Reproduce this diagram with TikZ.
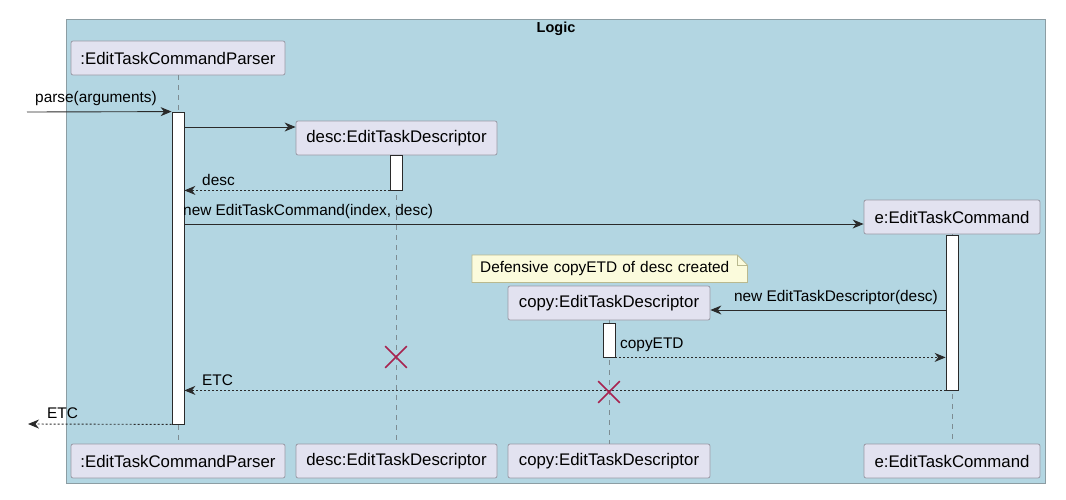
\documentclass[tikz,border=0pt]{standalone}
\usepackage{fontspec}
\setmainfont{Liberation Sans}
\usetikzlibrary{arrows.meta,shapes.misc}
\definecolor{framebg}{HTML}{B3D6E2}
\definecolor{frameln}{HTML}{8C9DA3}
\definecolor{partbg}{HTML}{E2E2F0}
\definecolor{partln}{HTML}{9A9AA6}
\definecolor{notebg}{HTML}{FBFBDC}
\definecolor{noteln}{HTML}{B9B98F}
\definecolor{lifeln}{HTML}{7D8C92}
\definecolor{msgln}{HTML}{2A2A2A}
\definecolor{xcol}{HTML}{A8234F}
\pgfdeclarelayer{framelayer}
\pgfdeclarelayer{notelayer}
\pgfsetlayers{framelayer,notelayer,main}
\begin{document}
\begin{tikzpicture}[x=1pt,y=-1pt,
  part/.style={draw=partln, fill=partbg, rounded corners=2pt, minimum height=34pt, inner sep=0pt, font=\fontsize{16.8}{18}\selectfont, line width=0.8pt},
  actbar/.style={draw=msgln, fill=white, minimum width=12pt, inner sep=0pt, line width=0.8pt},
  lifeline/.style={draw=lifeln, dash pattern=on 5pt off 5pt, line width=0.8pt},
  msg/.style={draw=msgln, line width=0.9pt, -{Stealth[length=11pt,width=9pt,inset=3.5pt]}},
  ret/.style={msg, dash pattern=on 2pt off 2pt},
  lbl/.style={font=\fontsize{15.4}{17}\selectfont, inner sep=0pt, text=black},
  xmark/.style={draw=xcol, cross out, line width=1.6pt, minimum size=20pt, inner sep=0pt}
]
\useasboundingbox (0,0) rectangle (1066,499);
% frame
\begin{pgfonlayer}{framelayer}
\fill[white] (0,0) rectangle (1066,499);
\node[draw=frameln, fill=framebg, line width=0.8pt, minimum width=979pt, minimum height=464pt, inner sep=0pt] (frame) at (555.5,251) {};
\end{pgfonlayer}
\node[font=\bfseries\fontsize{14.5}{16}\selectfont, anchor=north, inner sep=0pt] (title) at (556,22) {Logic};
% participants
\node[part, minimum width=214pt] (p1t) at (178,58) {:EditTaskCommandParser};
\node[part, minimum width=214pt] (p1b) at (178,461) {:EditTaskCommandParser};
\node[part, minimum width=201pt] (p2t) at (396.5,138) {desc:EditTaskDescriptor};
\node[part, minimum width=201pt] (p2b) at (396.5,461) {desc:EditTaskDescriptor};
\node[part, minimum width=202pt] (p3t) at (609,303) {copy:EditTaskDescriptor};
\node[part, minimum width=202pt] (p3b) at (609,461) {copy:EditTaskDescriptor};
\node[part, minimum width=176pt] (p4t) at (952,217) {e:EditTaskCommand};
\node[part, minimum width=176pt] (p4b) at (952,461) {e:EditTaskCommand};
% lifelines
\draw[lifeline] (p1t.south) -- (p1b.north);
\draw[lifeline] (p2t.south) -- (p2b.north);
\draw[lifeline] (p3t.south) -- (p3b.north);
\draw[lifeline] (p4t.south) -- (p4b.north);
% activation bars
\node[actbar, minimum height=312pt] (a1) at (178,268) {};
\node[actbar, minimum height=35pt] (a2) at (396,172.5) {};
\node[actbar, minimum height=155pt] (a4) at (952,312.5) {};
\node[actbar, minimum height=34pt] (a3) at (609,340) {};
% note
\node[lbl, text width=259pt, align=left, inner xsep=8pt, minimum height=27pt, anchor=north west] (note) at (472,255) {Defensive copyETD of desc created};
\begin{pgfonlayer}{notelayer}
\filldraw[fill=notebg, draw=noteln, line width=0.8pt] (note.south west) -- (note.north west) -- ([xshift=-10pt]note.north east) -- ([yshift=-10pt]note.north east) -- (note.south east) -- cycle;
\draw[draw=noteln, line width=0.8pt] ([xshift=-10pt]note.north east) -- ([xshift=-10pt,yshift=-10pt]note.north east) -- ([yshift=-10pt]note.north east);
\end{pgfonlayer}
% messages
\coordinate (in) at (27,112);
\draw[msg] (in) -- (a1.north west);
\node[lbl, anchor=south west] (l1) at (35,106) {parse(arguments)};
\coordinate (m2) at (184,127);
\draw[msg] (m2) -- (m2 -| p2t.west);
\draw[ret] (a2.south west) -- (a2.south west -| a1.east);
\node[lbl, anchor=south west] (l2) at (202,186) {desc};
\coordinate (m4) at (184,224);
\draw[msg] (m4) -- (m4 -| p4t.west);
\node[lbl, anchor=south west] (l4) at (183,219) {new EditTaskCommand(index, desc)};
\coordinate (m5) at (946,310);
\draw[msg] (m5) -- (m5 -| p3t.east);
\node[lbl, anchor=south east] (l5) at (938,305) {new EditTaskDescriptor(desc)};
\draw[ret] (a3.south east) -- (a3.south east -| a4.west);
\node[lbl, anchor=south west] (l6) at (620,352) {copyETD};
\draw[ret] (a4.south west) -- (a4.south west -| a1.east);
\node[lbl, anchor=south west] (l7) at (202,386) {ETC};
\coordinate (out) at (28,424);
\draw[ret] (a1.south west) -- (out);
\node[lbl, anchor=south west] (l8) at (47,419) {ETC};
% destroy marks
\node[xmark] (x1) at (396,357) {};
\node[xmark] (x2) at (609,392) {};
\end{tikzpicture}
\end{document}
